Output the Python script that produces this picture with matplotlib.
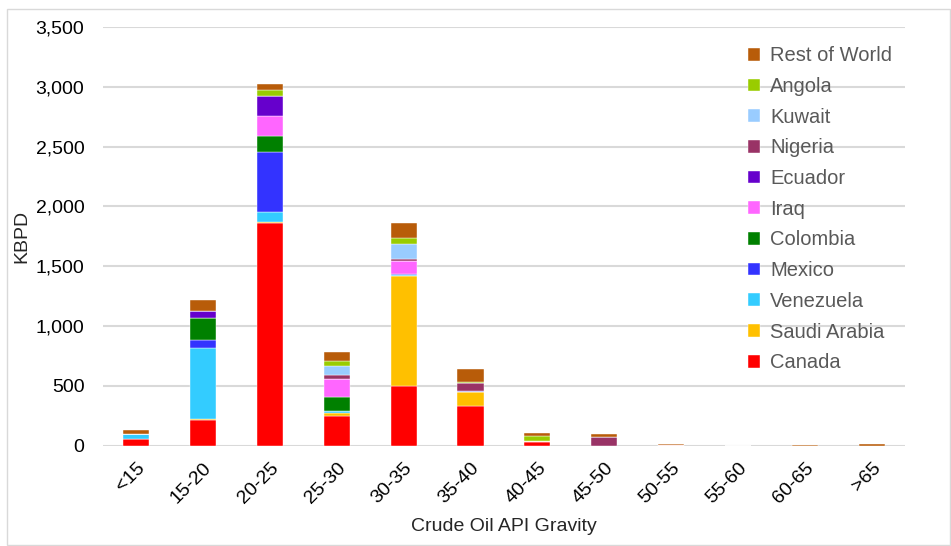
import matplotlib
matplotlib.use("Agg")
import matplotlib.pyplot as plt
from matplotlib.patches import Rectangle
import numpy as np

plt.rcParams['font.family'] = ['Liberation Sans', 'DejaVu Sans']

categories = ["<15", "15-20", "20-25", "25-30", "30-35", "35-40", "40-45",
              "45-50", "50-55", "55-60", "60-65", ">65"]

canada       = [52, 215, 1860, 248, 500, 333, 33, 0, 4, 0, 0, 0]
saudi_arabia = [8, 10, 10, 22, 922, 117, 8, 0, 0, 0, 0, 0]
venezuela    = [38, 594, 80, 17, 5, 0, 0, 0, 0, 0, 0, 0]
mexico       = [0, 64, 503, 3, 12, 5, 0, 0, 0, 0, 0, 0]
colombia     = [0, 186, 139, 113, 0, 0, 0, 0, 0, 0, 0, 0]
iraq         = [0, 0, 161, 153, 108, 0, 0, 0, 0, 0, 0, 0]
ecuador      = [0, 61, 167, 0, 0, 0, 0, 0, 0, 0, 0, 0]
nigeria      = [0, 0, 0, 36, 14, 70, 0, 75, 0, 0, 0, 0]
kuwait       = [0, 0, 0, 75, 128, 0, 0, 0, 0, 0, 0, 0]
angola       = [0, 0, 50, 42, 47, 10, 42, 0, 0, 0, 0, 0]
rest_of_world = [36, 84, 53, 75, 122, 106, 25, 20, 10, 0, 10, 12]

series = [
    ("Canada", canada, "#FF0000"),
    ("Saudi Arabia", saudi_arabia, "#FFC000"),
    ("Venezuela", venezuela, "#33CCFF"),
    ("Mexico", mexico, "#3333FF"),
    ("Colombia", colombia, "#008000"),
    ("Iraq", iraq, "#FF66FF"),
    ("Ecuador", ecuador, "#6600CC"),
    ("Nigeria", nigeria, "#993366"),
    ("Kuwait", kuwait, "#99CCFF"),
    ("Angola", angola, "#99CC00"),
    ("Rest of World", rest_of_world, "#B85C09"),
]

fig = plt.figure(figsize=(9.51, 5.46), dpi=100)
ax = fig.add_axes([0.1078, 0.1837, 0.8442, 0.7668])

x = np.arange(len(categories))
bottom = np.zeros(len(categories))
for name, vals, color in series:
    v = np.array(vals, dtype=float)
    ax.bar(x, v, width=0.39, bottom=bottom, color=color, label=name,
           edgecolor="white", linewidth=0.3, zorder=3)
    bottom += v

ax.set_xlim(-0.5, len(categories) - 0.5)
ax.set_ylim(0, 3500)
ax.set_yticks(np.arange(0, 3501, 500))
ax.set_yticklabels([f"{int(t):,}" for t in np.arange(0, 3501, 500)], fontsize=14)
ax.set_xticks(x)
ax.set_xticklabels(categories, rotation=45, ha="right", rotation_mode="anchor", fontsize=14)
ax.tick_params(axis="y", length=0, pad=13)
ax.tick_params(axis="x", length=0, pad=10)
ax.grid(axis="y", color="#D9D9D9", linewidth=1.5, zorder=0)
for s in ax.spines.values():
    s.set_visible(False)

ax.set_ylabel("KBPD", fontsize=14, color="#262626", labelpad=4)
ax.set_xlabel("Crude Oil API Gravity", fontsize=14, color="#262626", labelpad=8)

handles, labels = ax.get_legend_handles_labels()
leg = ax.legend(handles[::-1], labels[::-1], loc="upper right",
                bbox_to_anchor=(1.006, 0.997), frameon=False, fontsize=14.5,
                handlelength=0.6, handleheight=0.6, handletextpad=0.5,
                labelspacing=0.58, labelcolor="#595959")

fig.patches.append(Rectangle((7 / 951, 0.002), 1 - 8 / 951, 1 - 10 / 546,
                             transform=fig.transFigure, fill=False,
                             edgecolor="#D9D9D9", linewidth=1))

fig.savefig("out.png", dpi=100)
